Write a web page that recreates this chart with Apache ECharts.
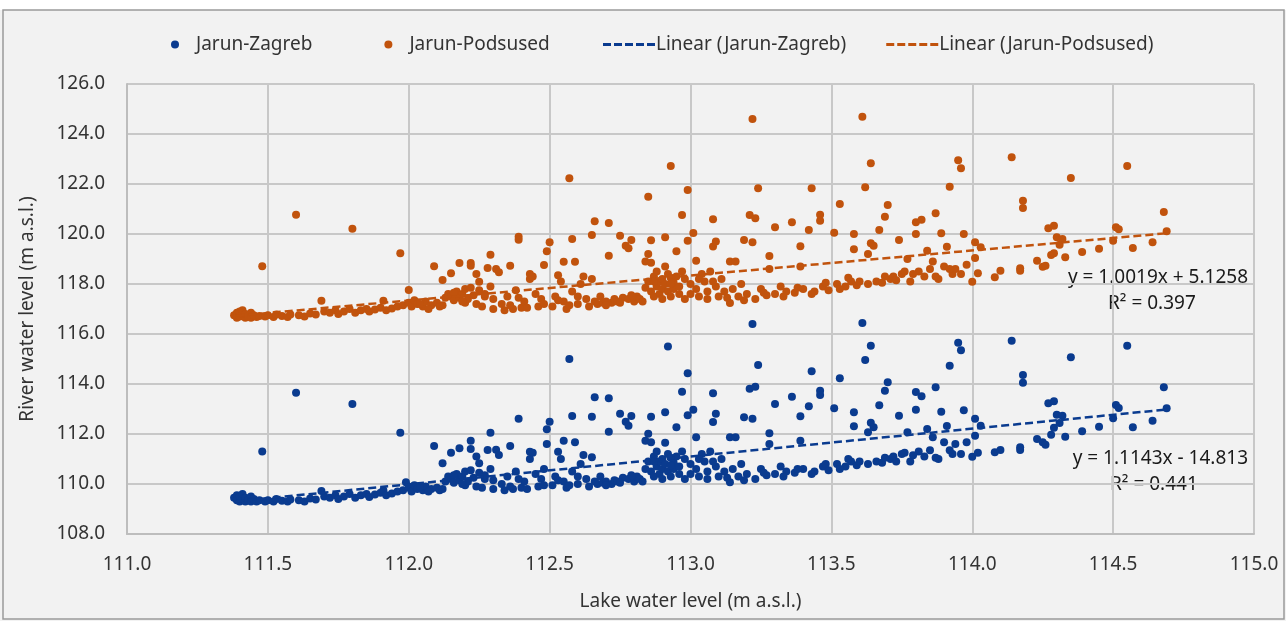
<!DOCTYPE html>
<html>
<head>
<meta charset="utf-8">
<script src="https://cdn.jsdelivr.net/npm/echarts@6/dist/echarts.min.js"></script>
<style>
	html, body { margin: 0; padding: 0; background: #ffffff; }
	#chart { width: 1286px; height: 621px; }
</style>
</head>
<body>
<div id="chart"></div>
<script>
	// lake level (x) vs river level (y)
	var zagreb = [
		[111.38,109.45],[111.39,109.55],[111.39,109.35],[111.40,109.3],[111.40,109.5],[111.41,109.4],[111.41,109.6],[111.42,109.3],
		[111.42,109.45],[111.43,109.35],[111.44,109.5],[111.44,109.3],[111.45,109.4],[111.46,109.3],[111.47,109.35],[111.48,111.3],
		[111.49,109.3],[111.50,109.35],[111.52,109.3],[111.53,109.4],[111.55,109.33],[111.57,109.3],[111.58,109.38],[111.60,113.65],
		[111.61,109.35],[111.63,109.3],[111.65,109.42],[111.67,109.38],[111.69,109.72],[111.70,109.5],[111.72,109.45],[111.74,109.55],
		[111.75,109.4],[111.77,109.5],[111.80,113.2],[111.79,109.6],[111.81,109.45],[111.83,109.55],[111.85,109.6],[111.86,109.48],
		[111.88,109.58],[111.90,109.65],[111.91,109.75],[111.92,109.55],[111.94,109.62],[111.96,109.7],[111.97,112.05],[111.98,109.75],
		[111.99,110.07],[112.00,109.85],[112.01,109.7],[112.02,109.95],
		[112.03,109.8],[112.05,109.75],[112.06,109.9],[112.08,109.8],[112.09,111.52],[112.10,109.85],[112.12,110.83],[112.11,109.75],
		[112.13,110.1],[112.14,110.3],[112.15,111.25],[112.15,110.2],[112.16,110.05],[112.17,110.4],[112.18,111.43],[112.18,110.15],
		[112.19,110.3],[112.20,110.5],[112.20,109.95],[112.21,110.1],[112.22,111.73],[112.22,111.4],[112.23,110.25],[112.24,111.1],
		[112.25,110.83],[112.25,110.45],[112.26,109.85],[112.27,110.2],[112.28,111.36],[112.29,112.05],[112.29,110.6],[112.30,109.8],
		[112.31,111.37],[112.32,111.16],[112.33,110.0],[112.34,109.75],[112.35,110.3],[112.36,111.52],[112.37,109.8],[112.38,110.5],
		[112.39,112.61],[112.40,109.85],[112.41,110.1],[112.43,111.29],[112.43,111.0],[112.44,111.25],[112.45,110.4],[112.46,109.9],
		[112.47,110.2],[112.48,110.6],[112.49,112.19],[112.50,112.49],[112.49,111.6],
		[112.51,109.95],[112.52,110.3],[112.53,111.29],[112.54,111.0],[112.55,111.73],[112.55,110.1],[112.56,109.85],[112.57,115.0],
		[112.58,112.72],[112.58,110.5],[112.59,111.67],[112.60,110.0],[112.61,110.8],[112.62,111.16],[112.63,110.2],[112.64,109.9],
		[112.65,112.69],[112.66,113.47],[112.65,111.07],[112.67,110.0],[112.68,110.3],[112.69,110.05],[112.70,110.1],[112.71,113.43],
		[112.71,112.09],[112.72,110.0],[112.73,110.15],[112.75,112.81],[112.74,110.1],[112.76,110.25],[112.77,112.49],[112.78,112.33],
		[112.79,112.72],[112.78,110.2],[112.80,110.1],[112.81,110.3],[112.82,110.2],[112.84,111.73],[112.85,112.01],[112.86,112.69],
		[112.86,111.67],[112.85,110.9],[112.86,110.5],[112.87,111.1],[112.87,110.3],[112.88,110.7],[112.88,111.3],[112.89,110.9],
		[112.89,110.4],[112.90,111.0],[112.90,110.6],[112.91,112.87],[112.91,111.65],[112.91,110.8],[112.92,115.5],[112.92,111.2],
		[112.92,110.5],[112.93,111.05],[112.93,110.3],[112.94,110.85],[112.94,110.6],[112.95,112.27],[112.95,111.1],[112.96,110.4],
		[112.96,110.7],[112.97,113.69],[112.98,111.0],[112.98,110.2],[112.99,112.75],[112.99,114.43],[113.00,110.4],
		[113.01,112.97],[113.02,111.87],[113.02,110.6],[113.03,110.3],[113.04,111.2],[113.05,110.9],[113.06,110.5],[113.07,111.3],
		[113.08,113.63],[113.08,112.48],[113.09,112.81],[113.09,110.7],[113.10,110.3],[113.11,111.0],[113.12,110.5],[113.14,111.87],
		[113.14,110.07],[113.15,110.6],[113.16,111.87],[113.17,110.3],[113.18,110.8],[113.19,112.67],[113.20,110.4],[113.21,113.81],
		[113.22,116.4],[113.22,112.61],[113.23,113.89],[113.23,110.2],[113.24,114.76],[113.25,110.6],[113.27,110.35],[113.28,112.03],
		[113.28,111.6],[113.30,113.2],[113.30,110.4],[113.32,110.7],[113.34,110.5],[113.36,113.49],[113.37,110.45],[113.39,112.71],
		[113.39,111.73],[113.40,110.6],[113.42,113.11],[113.43,114.51],[113.44,110.5],[113.46,113.73],[113.46,113.56],[113.47,110.7],
		[113.49,110.55],
		[113.51,113.03],[113.53,114.23],[113.52,110.8],[113.55,110.7],[113.57,110.9],[113.58,112.87],[113.58,112.31],[113.59,110.75],
		[113.61,116.44],[113.62,114.96],[113.63,112.07],[113.64,115.53],[113.64,112.45],[113.65,112.27],[113.66,110.9],[113.67,113.15],
		[113.68,110.85],[113.69,113.73],[113.70,114.07],[113.71,111.0],[113.72,111.1],[113.74,112.73],[113.75,111.2],[113.77,112.07],
		[113.78,110.9],[113.80,113.68],[113.80,112.97],[113.81,111.3],[113.82,113.51],[113.83,111.1],[113.84,112.2],[113.86,111.87],
		[113.87,113.87],[113.88,111.0],[113.89,112.89],[113.90,111.67],[113.91,112.32],[113.92,114.73],[113.93,111.2],[113.94,111.6],
		[113.95,115.65],[113.96,115.35],[113.96,111.2],[113.97,112.95],[113.98,111.67],[114.00,111.09],
		[114.01,112.61],[114.01,111.93],[114.02,111.25],[114.03,112.33],[114.08,111.27],[114.10,111.36],[114.14,115.73],[114.17,111.36],
		[114.17,111.47],[114.18,114.36],[114.18,114.05],[114.23,111.8],[114.25,111.67],[114.26,111.57],[114.27,113.23],[114.28,111.97],
		[114.29,113.31],[114.29,112.25],[114.30,112.77],[114.31,112.44],[114.32,112.73],[114.33,111.89],[114.35,115.07],[114.39,112.11],
		[114.45,112.29],[114.50,112.63],[114.51,113.16],[114.52,113.04],[114.55,115.53],[114.57,112.27],[114.64,112.53],[114.68,113.87],
		[114.69,113.03],
		// denser part of the lower band
		[112.04,109.9],[112.07,109.7],[112.12,109.8],[112.16,110.35],[112.19,110.0],[112.22,110.55],[112.24,109.9],[112.27,110.35],
		[112.30,110.15],[112.36,109.9],[112.39,110.2],[112.42,109.8],[112.48,109.95],[112.53,110.15],[112.57,109.95],[112.60,110.3],
		[112.66,110.1],[112.70,109.95],[112.75,110.05],[112.79,110.35],[112.83,110.1],[112.84,110.6],[112.87,110.9],[112.90,110.2],
		[112.93,110.75],[112.97,111.3],[113.00,110.8],[113.03,111.0],[113.06,110.2],[113.08,110.9],[113.13,110.25],[113.19,110.15],
		[113.26,110.45],[113.33,110.3],[113.38,110.6],[113.43,110.4],[113.48,110.8],[113.53,110.6],[113.56,111.0],[113.60,110.9],
		[113.63,110.8],[113.69,111.05],[113.73,110.9],[113.76,111.25],[113.79,111.15],[113.85,111.35],[113.87,111.05],[113.92,111.35]
	];

	var podsused = [
		[111.38,116.75],[111.39,116.85],[111.39,116.65],[111.40,116.7],[111.40,116.9],[111.41,116.8],[111.41,116.95],[111.42,116.65],
		[111.42,116.8],[111.43,116.7],[111.44,116.85],[111.44,116.65],[111.45,116.75],[111.46,116.68],[111.47,116.72],[111.48,118.71],
		[111.49,116.7],[111.50,116.75],[111.52,116.68],[111.53,116.78],[111.55,116.72],[111.57,116.68],[111.58,116.78],[111.60,120.77],
		[111.61,116.75],[111.63,116.7],[111.65,116.82],[111.67,116.78],[111.69,117.33],[111.70,116.9],[111.72,116.85],[111.74,116.95],
		[111.75,116.8],[111.77,116.9],[111.80,120.21],[111.79,117.0],[111.81,116.85],[111.83,116.95],[111.85,117.0],[111.86,116.9],
		[111.88,116.98],[111.90,117.05],[111.91,117.33],[111.92,116.95],[111.94,117.02],[111.96,117.1],[111.97,119.23],[111.98,117.15],
		[112.00,117.76],[112.00,117.25],[112.01,117.1],[112.02,117.35],
		[112.03,117.2],[112.05,117.1],[112.06,117.3],[112.08,117.15],[112.09,118.71],[112.10,117.25],[112.12,118.16],[112.11,117.1],
		[112.13,117.45],[112.14,117.6],[112.15,118.43],[112.15,117.5],[112.16,117.35],[112.17,117.7],[112.18,118.84],[112.18,117.45],
		[112.19,117.6],[112.20,117.8],[112.20,117.25],[112.21,117.4],[112.22,118.84],[112.22,118.73],[112.23,117.55],[112.24,118.4],
		[112.25,118.09],[112.25,117.75],[112.26,117.1],[112.27,117.5],[112.28,118.64],[112.29,119.17],[112.29,117.9],[112.30,117.0],
		[112.31,118.6],[112.32,118.47],[112.33,117.2],[112.34,116.95],[112.35,117.5],[112.36,118.73],[112.37,117.0],[112.38,117.75],
		[112.39,119.89],[112.39,119.77],[112.40,117.05],[112.41,117.3],[112.43,118.4],[112.43,118.2],[112.44,118.3],[112.45,117.6],
		[112.46,117.1],[112.47,117.4],[112.48,118.76],[112.49,119.31],[112.50,119.67],
		[112.51,117.1],[112.52,117.5],[112.53,118.35],[112.54,118.1],[112.55,118.89],[112.55,117.3],[112.56,117.0],[112.57,122.23],
		[112.58,119.8],[112.58,117.7],[112.59,118.89],[112.60,117.2],[112.61,118.0],[112.62,118.3],[112.63,117.4],[112.64,117.1],
		[112.65,119.96],[112.66,120.51],[112.65,118.2],[112.67,117.2],[112.68,117.5],[112.69,117.25],[112.70,117.3],[112.71,120.44],
		[112.71,119.13],[112.72,117.25],[112.73,117.4],[112.75,119.93],[112.74,117.3],[112.76,117.45],[112.77,119.53],[112.78,119.43],
		[112.79,119.76],[112.78,117.4],[112.80,117.3],[112.81,117.5],[112.82,117.4],[112.84,118.9],[112.85,121.49],[112.85,119.2],
		[112.86,119.75],[112.86,118.85],[112.85,118.1],[112.86,117.7],[112.87,118.3],[112.87,117.5],[112.88,117.9],[112.88,118.5],
		[112.89,118.1],[112.89,117.6],[112.90,118.2],[112.90,117.8],[112.91,119.87],[112.91,118.7],[112.91,118.0],[112.93,122.72],
		[112.92,118.4],[112.92,117.7],[112.93,118.25],[112.93,117.5],[112.94,118.05],[112.94,117.8],[112.95,119.31],[112.95,118.3],
		[112.96,117.6],[112.96,117.9],[112.97,120.76],[112.98,118.2],[112.98,117.4],[112.99,121.76],[112.99,119.73],[113.00,117.6],
		[113.01,120.04],[113.02,118.93],[113.02,117.8],[113.03,117.5],[113.04,118.4],[113.05,118.1],[113.06,117.7],[113.07,118.5],
		[113.08,120.59],[113.08,119.5],[113.09,119.7],[113.09,117.9],[113.10,117.5],[113.11,118.2],[113.12,117.7],[113.14,118.9],
		[113.14,117.24],[113.15,117.8],[113.16,118.9],[113.17,117.5],[113.18,118.0],[113.19,119.76],[113.20,117.6],[113.21,120.76],
		[113.22,124.6],[113.22,119.67],[113.23,120.63],[113.23,117.4],[113.24,121.83],[113.25,117.8],[113.27,117.55],[113.28,119.12],
		[113.28,118.6],[113.30,120.27],[113.30,117.6],[113.32,117.9],[113.34,117.7],[113.36,120.47],[113.37,117.65],[113.39,119.51],
		[113.39,118.7],[113.40,117.8],[113.42,120.16],[113.43,121.83],[113.44,117.7],[113.46,120.77],[113.46,120.53],[113.47,117.9],
		[113.49,117.75],
		[113.51,120.05],[113.53,121.2],[113.52,118.0],[113.55,117.9],[113.57,118.1],[113.58,120.0],[113.58,119.39],[113.59,117.95],
		[113.61,124.69],[113.62,121.87],[113.63,119.2],[113.64,122.83],[113.64,119.63],[113.65,119.53],[113.66,118.1],[113.67,120.16],
		[113.68,118.05],[113.69,120.69],[113.70,121.16],[113.71,118.2],[113.72,118.3],[113.74,119.76],[113.75,118.4],[113.77,119.0],
		[113.78,118.1],[113.80,120.47],[113.80,120.0],[113.81,118.5],[113.82,120.57],[113.83,118.3],[113.84,119.33],[113.86,118.9],
		[113.87,120.83],[113.88,118.2],[113.89,120.03],[113.90,118.7],[113.91,119.49],[113.92,121.89],[113.93,118.4],[113.94,118.6],
		[113.95,122.95],[113.96,122.63],[113.96,118.4],[113.97,120.0],[113.98,118.77],[114.00,118.09],
		[114.01,119.67],[114.01,119.04],[114.02,118.43],[114.03,119.47],[114.08,118.27],[114.10,118.53],[114.14,123.07],[114.17,118.53],
		[114.17,118.63],[114.18,121.33],[114.18,121.04],[114.23,118.93],[114.25,118.69],[114.26,118.73],[114.27,120.23],[114.28,119.16],
		[114.29,120.33],[114.29,119.23],[114.30,119.87],[114.31,119.57],[114.32,119.8],[114.33,119.07],[114.35,122.24],[114.39,119.28],
		[114.45,119.41],[114.50,119.73],[114.51,120.27],[114.52,120.19],[114.55,122.72],[114.57,119.44],[114.64,119.67],[114.68,120.88],
		[114.69,120.11],
		// denser part of the lower band
		[112.04,117.2],[112.07,117.0],[112.12,117.15],[112.16,117.65],[112.19,117.3],[112.22,117.85],[112.24,117.2],[112.27,117.6],
		[112.30,117.4],[112.36,117.15],[112.39,117.45],[112.42,117.05],[112.48,117.2],[112.53,117.35],[112.57,117.15],[112.60,117.5],
		[112.66,117.3],[112.70,117.15],[112.75,117.25],[112.79,117.55],[112.83,117.3],[112.84,117.85],[112.87,118.1],[112.90,117.4],
		[112.93,118.0],[112.97,118.5],[113.00,118.0],[113.03,118.2],[113.06,117.4],[113.08,118.1],[113.13,117.45],[113.19,117.35],
		[113.26,117.65],[113.33,117.5],[113.38,117.85],[113.43,117.6],[113.48,118.05],[113.53,117.8],[113.56,118.25],[113.60,118.1],
		[113.63,118.0],[113.69,118.3],[113.73,118.15],[113.76,118.5],[113.79,118.4],[113.85,118.6],[113.87,118.3],[113.92,118.6]
	];

	// trend line end points
	var zagrebTrend = [[111.39, 109.31], [114.69, 112.98]];
	var podsusedTrend = [[111.39, 116.73], [114.69, 120.03]];

	var xTicks = [111.0, 115.0, 0.5];
	var yTicks = [108.0, 126.0, 2.0];

	var seriesNames = ['Jarun-Zagreb', 'Jarun-Podsused', 'Linear (Jarun-Zagreb)', 'Linear (Jarun-Podsused)'];
	var equations = ['y = 1.0019x + 5.1258', 'R² = 0.397', 'y = 1.1143x - 14.813', 'R² = 0.441'];

	var blue = '#0a3b8f';
	var orange = '#c1530d';
	var font = 'Noto Sans';
	var textColor = '#333333';
	// dashed legend icon for the trend lines
	var dashIcon = 'path://M0,0h8v3h-8z M11,0h8v3h-8z M22,0h8v3h-8z M33,0h8v3h-8z M44,0h8v3h-8z';

	var chart = echarts.init(document.getElementById('chart'));

	chart.setOption({
		backgroundColor: '#f2f2f2',
		animation: false,
		textStyle: { fontFamily: font },
		legend: [{
			data: [seriesNames[0], seriesNames[1]],
			left: 166,
			top: 30,
			icon: 'circle',
			itemWidth: 8,
			itemHeight: 8,
			itemGap: 72,
			textStyle: { fontSize: 19, color: textColor, fontFamily: font, padding: [0, 0, 0, 12] }
		}, {
			data: [
				{ name: seriesNames[2], icon: dashIcon },
				{ name: seriesNames[3], icon: dashIcon }
			],
			left: 598,
			top: 30,
			itemWidth: 52,
			itemHeight: 3,
			itemGap: 40,
			textStyle: { fontSize: 19, color: textColor, fontFamily: font, padding: [0, 0, 0, -4] }
		}],
		grid: {
			left: 127,
			right: 32,
			top: 84,
			bottom: 87
		},
		xAxis: {
			type: 'value',
			min: xTicks[0],
			max: xTicks[1],
			interval: xTicks[2],
			name: 'Lake water level (m a.s.l.)',
			nameLocation: 'middle',
			nameGap: 58,
			nameTextStyle: { fontSize: 19, color: textColor },
			axisLine: { lineStyle: { color: '#bdbdbd', width: 2 } },
			axisTick: { show: false },
			axisLabel: {
				fontSize: 19,
				color: textColor,
				margin: 21,
				formatter: function (v) { return v.toFixed(1); }
			},
			splitLine: { show: true, lineStyle: { color: '#c8c8c8', width: 2 } }
		},
		yAxis: {
			type: 'value',
			min: yTicks[0],
			max: yTicks[1],
			interval: yTicks[2],
			name: 'River water level (m a.s.l.)',
			nameLocation: 'middle',
			nameGap: 90,
			nameTextStyle: { fontSize: 19, color: textColor },
			axisLine: { show: true, lineStyle: { color: '#bdbdbd', width: 2 } },
			axisTick: { show: false },
			axisLabel: {
				fontSize: 19,
				color: textColor,
				margin: 22,
				formatter: function (v) { return v.toFixed(1); }
			},
			splitLine: { show: true, lineStyle: { color: '#c8c8c8', width: 2 } }
		},
		graphic: [
			{ type: 'rect', z: -10, shape: { x: 0, y: 0, width: 1286, height: 10 }, style: { fill: '#ffffff' } },
			{ type: 'rect', z: -9, shape: { x: 3, y: 10, width: 1281, height: 609 }, style: { fill: 'none', stroke: '#9a9a9a', lineWidth: 1.5 } },
			{ type: 'text', right: 38, top: 268, style: { text: equations[0], font: '19px "Noto Sans"', fill: '#1a1a1a' } },
			{ type: 'text', left: 1108, top: 294, style: { text: equations[1], font: '19px "Noto Sans"', fill: '#1a1a1a' } },
			{ type: 'text', right: 38, top: 449, style: { text: equations[2], font: '19px "Noto Sans"', fill: '#1a1a1a' } },
			{ type: 'text', left: 1110, top: 475, style: { text: equations[3], font: '19px "Noto Sans"', fill: '#1a1a1a' } }
		],
		series: [{
			name: seriesNames[0],
			type: 'scatter',
			symbolSize: 8,
			itemStyle: { color: blue, opacity: 1 },
			data: zagreb
		}, {
			name: seriesNames[1],
			type: 'scatter',
			symbolSize: 8,
			itemStyle: { color: orange, opacity: 1 },
			data: podsused
		}, {
			name: seriesNames[2],
			type: 'line',
			symbol: 'none',
			z: 3,
			itemStyle: { color: blue },
			lineStyle: { color: blue, width: 2.5, type: [8, 4] },
			data: zagrebTrend
		}, {
			name: seriesNames[3],
			type: 'line',
			symbol: 'none',
			z: 3,
			itemStyle: { color: orange },
			lineStyle: { color: orange, width: 2.5, type: [8, 4] },
			data: podsusedTrend
		}]
	});
</script>
</body>
</html>
